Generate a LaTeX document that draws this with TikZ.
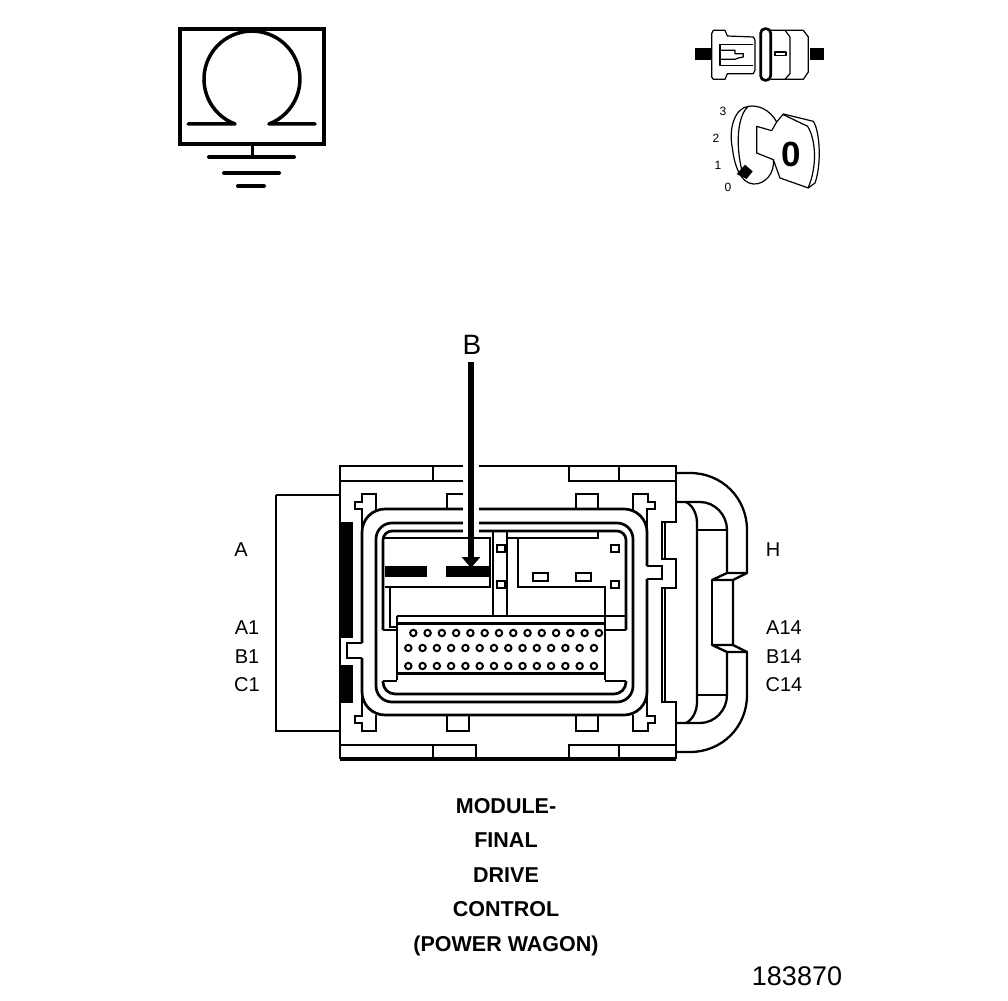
\documentclass[tikz,border=0pt]{standalone}
\usepackage{fontspec}
\setmainfont{Liberation Sans}
\usetikzlibrary{arrows.meta}
\tikzset{
  wire/.style={draw=black, line width=2.7pt, line join=miter},
  handle/.style={draw=black, line width=2.3pt, line join=round},
  thinwire/.style={draw=black, line width=1.2pt, line join=round},
  solidbar/.style={fill=black, draw=none},
  groundbar/.style={draw=black, line width=4pt, line cap=round, line join=round},
  pinlabel/.style={font=\fontsize{20}{20}\selectfont, inner sep=0pt},
  titleline/.style={font=\bfseries\fontsize{21.5}{21.5}\selectfont, inner sep=0pt},
  keynum/.style={font=\fontsize{12}{12}\selectfont, inner sep=0pt}
}
\begin{document}
\begin{tikzpicture}[x=1pt, y=-1pt]
  \useasboundingbox (0,0) rectangle (1008,1000);

  % ground symbol
  \draw[draw=black, line width=3.5pt] (180,29) rectangle (324,144);
  \draw[groundbar, line width=3.5pt] (188,124) -- (235,124) arc[start angle=110.7, end angle=429.3, radius=48] -- (315,124);
  \draw[draw=black, line width=3pt] (252,144) -- (252,157);
  \draw[groundbar] (209,157) -- (294,157);
  \draw[groundbar] (224,173) -- (279,173);
  \draw[groundbar] (238,186) -- (264,186);

  % switch
  \begin{scope}[shift={(690,22)}, x=.3333pt, y=-.3333pt]
    \fill (15,78) rectangle (62,113);
    \fill (360,78) rectangle (403,113);
    \draw[thinwire] (65,35) -- (70,25) -- (105,25) -- (112,42) -- (190,45) -- (195,55) -- (195,145) -- (190,155) -- (112,155) -- (105,172) -- (70,172) -- (65,165) -- cycle;
    \draw[thinwire] (190,68) -- (90,68) -- (90,130) -- (190,130);
    \draw[thinwire] (90,85) -- (135,85) -- (135,95) -- (160,95) -- (160,105) -- (145,108) -- (135,112) -- (90,112);
    \draw[draw=black, line width=2.7pt, rounded corners=4.5pt] (212,20) rectangle (242,175);
    \draw[thinwire] (243,25) -- (285,25) -- (300,45) -- (300,155) -- (285,172) -- (243,172);
    \draw[thinwire] (285,25) -- (340,25) -- (355,45) -- (355,150) -- (340,172) -- (285,172);
    \draw[thinwire] (255,90) rectangle (288,100);
  \end{scope}

  % key
  \begin{scope}[shift={(715,98)}, x=.3333pt, y=-.3333pt]
    \draw[thinwire] (185,72) .. controls (165,35) and (130,20) .. (100,25) .. controls (60,30) and (40,90) .. (52,150) .. controls (58,200) and (75,255) .. (115,258) .. controls (150,260) and (180,225) .. (175,185) -- (125,165) -- (125,85) -- (170,98) -- (185,72);
    \draw[thinwire] (100,25) .. controls (70,50) and (60,130) .. (80,215);
    \draw[thinwire] (185,72) -- (205,48) -- (295,70) .. controls (315,100) and (320,200) .. (300,255) -- (280,270) -- (195,240) -- (175,185);
    \draw[thinwire] (205,50) -- (278,85) .. controls (305,130) and (305,210) .. (280,268);
    \fill (65,228) -- (90,200) -- (113,220) -- (95,243) -- cycle;
  \end{scope}
  \node[inner sep=0pt, font=\bfseries\fontsize{35}{35}\selectfont] (keyzero) at (791,154) {0};
  \node[keynum] (keythree) at (723,111) {3};
  \node[keynum] (keytwo) at (716,138) {2};
  \node[keynum] (keyone) at (718,165) {1};
  \node[keynum] (keynil) at (728,187) {0};

  % housing
  \draw[wire] (276,495) -- (340,495);
  \draw[wire] (276,495) -- (276,731) -- (340,731);
  \draw[wire] (340,759) -- (340,466) -- (676,466) -- (676,522) -- (662,522) -- (662,559) -- (676,559) -- (676,588) -- (662,588) -- (662,702) -- (676,702) -- (676,759);
  \draw[draw=black, line width=3.5pt] (340,759) -- (676,759);
  \draw[wire] (665,522) -- (665,559);
  \draw[wire] (665,588) -- (665,702);
  \draw[wire] (340,481) -- (476,481) -- (476,466);
  \draw[wire] (433,466) -- (433,481);
  \draw[wire] (569,466) -- (569,481) -- (676,481);
  \draw[wire] (619,466) -- (619,481);
  \draw[wire] (340,745) -- (476,745) -- (476,759);
  \draw[wire] (433,745) -- (433,759);
  \draw[wire] (569,759) -- (569,745) -- (676,745);
  \draw[wire] (619,745) -- (619,759);
  \fill[solidbar] (339,522) rectangle (353,638);
  \fill[solidbar] (339,665) rectangle (353,703);

  % clips and tabs
  \draw[wire] (362,530) -- (362,509) -- (355,509) -- (355,502) -- (362,502) -- (362,494) -- (376,494) -- (376,510);
  \draw[wire] (362,695) -- (362,716) -- (355,716) -- (355,723) -- (362,723) -- (362,731) -- (376,731) -- (376,715);
  \draw[wire] (647,530) -- (647,509) -- (655,509) -- (655,502) -- (648,502) -- (648,494) -- (633,494) -- (633,510);
  \draw[wire] (647,695) -- (647,716) -- (655,716) -- (655,723) -- (648,723) -- (648,731) -- (633,731) -- (633,715);
  \draw[wire] (447,509) -- (447,494) -- (469,494) -- (469,509);
  \draw[wire] (447,716) -- (447,731) -- (469,731) -- (469,716);
  \draw[wire] (576,509) -- (576,494) -- (598,494) -- (598,509);
  \draw[wire] (576,716) -- (576,731) -- (598,731) -- (598,716);

  % seal rings
  \draw[wire, rounded corners=23pt] (362,643) -- (362,509) -- (647,509) -- (647,566);
  \draw[wire, rounded corners=23pt] (647,579) -- (647,715) -- (362,715) -- (362,658);
  \draw[wire] (647,566) -- (662,566) -- (662,579) -- (647,579);
  \draw[wire] (362,643) -- (347,643) -- (347,658) -- (362,658);
  \draw[wire, rounded corners=16pt] (376,523) rectangle (633,702);
  \draw[wire, rounded corners=9pt] (383,630) -- (383,531) -- (626,531) -- (626,630);
  \draw[wire, rounded corners=12pt] (626,681) -- (626,694) -- (383,694) -- (383,681);
  \draw[wire] (383,630) -- (397,630);
  \draw[wire] (626,630) -- (605,630);
  \draw[wire] (383,681) -- (397,681);
  \draw[wire] (626,681) -- (605,681);

  % inner cavity
  \draw[wire] (383,538) -- (490,538) -- (490,587) -- (385,587);
  \draw[wire] (390,587) -- (390,627) -- (397,627);
  \draw[wire] (493,531) -- (493,616);
  \draw[wire] (507,531) -- (507,616);
  \draw[wire] (598,531) -- (598,538) -- (508,538);
  \draw[wire] (518,538) -- (518,587) -- (605,587) -- (605,616);
  \foreach \ypos in {545,581} {
    \draw[wire, line width=2pt] (497,\ypos) rectangle (505,\ypos+7);
    \draw[wire, line width=2pt] (611,\ypos) rectangle (619,\ypos+7);
  }
  \foreach \xpos in {533,576} {
    \draw[wire, line width=2pt] (\xpos,573) rectangle (\xpos+15,581);
  }
  \fill[solidbar] (385,566) rectangle (427,577);
  \fill[solidbar] (446,566) rectangle (490,577);

  % pin block
  \draw[wire] (397,616) -- (397,680);
  \draw[wire] (605,616) -- (605,680);
  \draw[wire] (397,616) -- (626,616);
  \draw[draw=black, line width=3pt] (397,623) -- (605,623);
  \draw[draw=black, line width=3pt] (397,673) -- (605,673);
  \foreach \i in {0,...,13} {
    \draw[draw=black, line width=2pt] (413.3+\i*14.28,633) circle[radius=3.2];
    \draw[draw=black, line width=2pt] (408.3+\i*14.28,648) circle[radius=3.2];
    \draw[draw=black, line width=2pt] (408.3+\i*14.28,666) circle[radius=3.2];
  }

  % right handle
  \draw[handle] (676,473) -- (690,473) .. controls (722,473) and (747,498) .. (747,530) -- (747,573) -- (733,580) -- (733,645) -- (747,652) -- (747,695) .. controls (747,727) and (722,752) .. (690,752) -- (676,752);
  \draw[handle] (676,502) -- (700,502) .. controls (715,502) and (727,515) .. (727,530) -- (727,573) -- (747,573);
  \draw[handle] (676,723) -- (700,723) .. controls (715,723) and (727,710) .. (727,695) -- (727,652) -- (747,652);
  \draw[handle] (686,502) .. controls (692,505) and (697,513) .. (697,523) -- (697,702) .. controls (697,712) and (692,720) .. (686,723);
  \draw[handle] (697,530) -- (727,530);
  \draw[handle] (697,695) -- (727,695);
  \draw[handle] (727,573) -- (712,580) -- (733,580);
  \draw[handle] (727,652) -- (712,645) -- (733,645);
  \draw[handle] (712,580) -- (712,645);

  % view arrow
  \node[inner sep=0pt, font=\fontsize{28}{28}\selectfont] (viewb) at (472,345) {B};
  \coordinate (viewbtop) at (471,362);
  \coordinate (viewbtip) at (471,568);
  \fill[white] (463,460) rectangle (479,535);
  \draw[draw=black, line width=6pt, -{Triangle[length=11pt, width=18pt]}] (viewbtop) -- (viewbtip);

  % labels
  \node[pinlabel] (conna) at (241,550) {A};
  \node[pinlabel] (pina) at (247,628) {A1};
  \node[pinlabel] (pinb) at (247,657) {B1};
  \node[pinlabel] (pinc) at (247,685) {C1};
  \node[pinlabel] (connh) at (773,550) {H};
  \node[pinlabel] (pinaa) at (784,628) {A14};
  \node[pinlabel] (pinbb) at (784,657) {B14};
  \node[pinlabel] (pincc) at (784,685) {C14};
  \node[titleline] (titlea) at (506,806) {MODULE-};
  \node[titleline] (titleb) at (506,840) {FINAL};
  \node[titleline] (titlec) at (506,875) {DRIVE};
  \node[titleline] (titled) at (506,909) {CONTROL};
  \node[titleline] (titlee) at (506,945.5) {(POWER WAGON)};
  \node[inner sep=0pt, font=\fontsize{27}{27}\selectfont] (partno) at (797,976) {183870};
\end{tikzpicture}
\end{document}
